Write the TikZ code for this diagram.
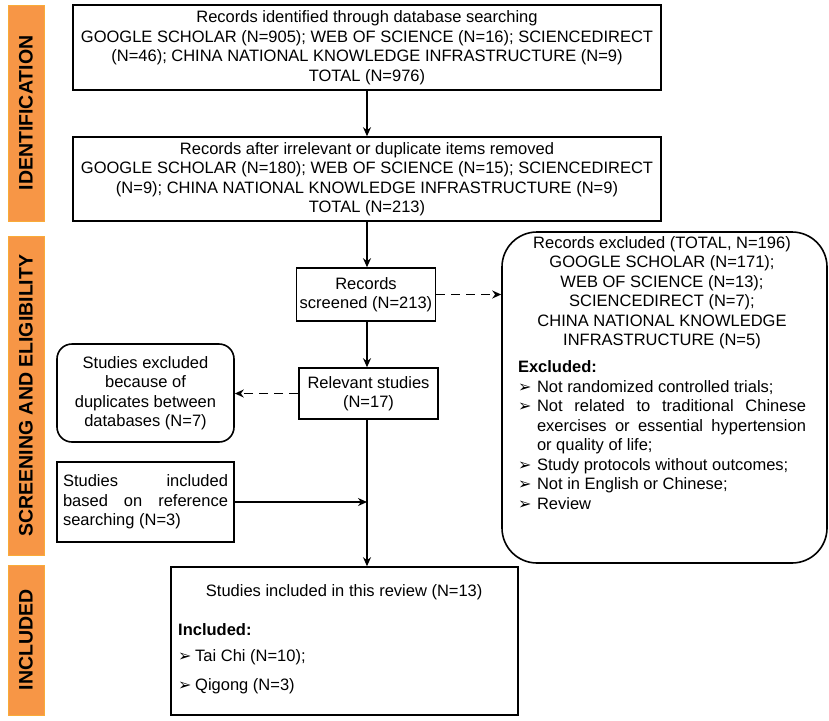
\documentclass[tikz,border=0pt]{standalone}
\usepackage{fontspec}
\setmainfont{Liberation Sans}
\newfontfamily\symfont{DejaVu Sans}
\usetikzlibrary{arrows.meta,positioning,calc}
\definecolor{bandorange}{HTML}{F79646}
\newcommand{\bodyfont}{\fontsize{16.5}{19.5}\selectfont}
\newcommand{\arrowbul}{{\symfont\fontsize{16}{16}\selectfont ➢}}
\newcommand{\bulitem}[1]{\par\hangindent=19pt\hangafter=1\noindent\makebox[19pt][l]{\arrowbul}#1\par}
\tikzset{
  sqbox/.style  = { draw, line width=1.6pt, inner sep=2pt, align=center, font=\bodyfont },
  rdbox/.style  = { sqbox, rounded corners=15pt },
  band/.style   = { fill=bandorange, draw=bandorange!80!yellow, rotate=90, inner sep=0pt,
    font=\fontsize{19.5}{22}\selectfont\bfseries },
  flow/.style   = { -{Stealth[length=9pt,width=8pt]}, line width=1.8pt },
  dflow/.style  = { flow, dash pattern=on 9pt off 6pt }
}
\begin{document}
\begin{tikzpicture}[x=1pt,y=-1pt]
  \useasboundingbox (0,0) rectangle (829,720);
  % phase bands
  \node[band, minimum width=216, minimum height=36] (bid) at (26,113) {IDENTIFICATION};
  \node[band, minimum width=319, minimum height=36] (bsc) at (26,395.5) {SCREENING AND ELIGIBILITY};
  \node[band, minimum width=150, minimum height=36] (bin) at (26,640) {INCLUDED};

  % main column
  \node[sqbox, minimum width=588, minimum height=85] (ident) at (367,47.5)
    {Records identified through database searching\\
     GOOGLE SCHOLAR (N=905); WEB OF SCIENCE (N=16); SCIENCEDIRECT\\
     (N=46); CHINA NATIONAL KNOWLEDGE INFRASTRUCTURE (N=9)\\
     TOTAL (N=976)};
  \node[sqbox, minimum width=588, minimum height=84] (after) at (367,179)
    {Records after irrelevant or duplicate items removed\\
     GOOGLE SCHOLAR (N=180); WEB OF SCIENCE (N=15); SCIENCEDIRECT\\
     (N=9); CHINA NATIONAL KNOWLEDGE INFRASTRUCTURE (N=9)\\
     TOTAL (N=213)};
  \node[sqbox, minimum width=139, minimum height=53] (scr) at (366,294.5)
    {Records\\ screened (N=213)};
  \node[sqbox, minimum width=139, minimum height=51] (rel) at (368.5,393.5)
    {Relevant studies\\ (N=17)};
  \node[sqbox, minimum width=347, minimum height=148] (fin) at (344.5,641) {};
  \node[anchor=north west, inner sep=0pt, align=left, font=\bodyfont] (fintxt) at (178,584)
    {\makebox[332pt][c]{Studies included in this review (N=13)}\\[19.5pt]
     \textbf{Included:}\\[6.5pt]
     \makebox[17pt][l]{\arrowbul}Tai Chi (N=10);\\[9.5pt]
     \makebox[17pt][l]{\arrowbul}Qigong (N=3)};

  % side boxes
  \node[rdbox, minimum width=177, minimum height=98] (dup) at (145.5,393)
    {Studies excluded\\ because of\\ duplicates between\\ databases (N=7)};
  \node[sqbox, minimum width=177, minimum height=80, text width=165, inner xsep=6pt,
    align=justify] (refs) at (145.5,502)
    {Studies included\linebreak based on reference\linebreak searching (N=3)};
  \node[sqbox, rounded corners=35pt, minimum width=325, minimum height=331] (exc) at (664.5,397.5) {};
  \node[anchor=north, inner sep=0pt, text width=288, align=justify, font=\bodyfont] (exctxt) at (662,236)
    {{\centering Records excluded (TOTAL, N=196)\\
      GOOGLE SCHOLAR (N=171);\\
      WEB OF SCIENCE (N=13);\\
      SCIENCEDIRECT (N=7);\\
      CHINA NATIONAL KNOWLEDGE\\
      INFRASTRUCTURE (N=5)\par}
     \vspace{7.5pt}
     \noindent\textbf{Excluded:}\par
     \bulitem{Not randomized controlled trials;}
     \bulitem{Not related to traditional Chinese\linebreak exercises or essential hypertension\linebreak or quality of life;}
     \bulitem{Study protocols without outcomes;}
     \bulitem{Not in English or Chinese;}
     \bulitem{Review}};

  % connectors
  \draw[flow] (ident) -- (after);
  \draw[flow] (after.south) -- (after.south |- scr.north);
  \draw[flow] (after.south |- scr.south) -- (after.south |- rel.north);
  \draw[dflow] (scr.east) -- (scr.east -| exc.west);
  \draw[dflow] (rel.west) -- (rel.west -| dup.east);
  \draw[line width=1.8pt] (after.south |- rel.south) -- (after.south |- refs.east);
  \draw[flow] (refs.east) -- (refs.east -| after.south);
  \draw[flow] (after.south |- refs.east) -- (after.south |- fin.north);
\end{tikzpicture}
\end{document}
